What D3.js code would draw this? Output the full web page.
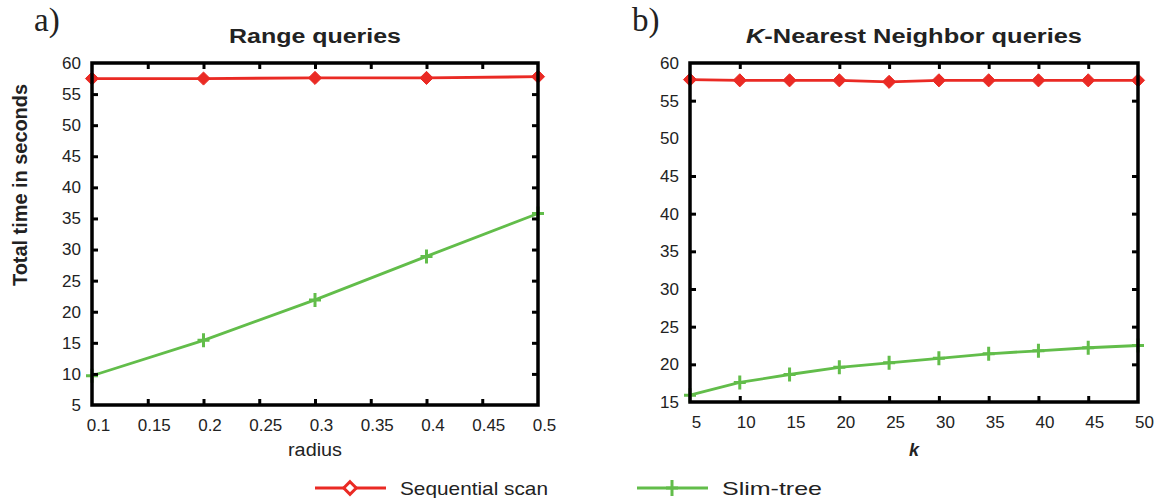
<!DOCTYPE html>
<html>
<head>
<meta charset="utf-8">
<script src="https://cdn.jsdelivr.net/npm/d3@7"></script>
<style>
  body { margin: 0; background: #fff; }
  text { font-family: "Liberation Sans", Arial, sans-serif; fill: #222; }
</style>
</head>
<body>
<svg id="chart" width="1160" height="498"></svg>
<script>
// ---- data ----
const radius = [0.1, 0.2, 0.3, 0.4, 0.5];
const rangeSeq = [57.5, 57.5, 57.6, 57.6, 57.8];
const rangeSlim = [9.7, 15.4, 21.9, 28.9, 35.8];

const kValues = [5, 10, 15, 20, 25, 30, 35, 40, 45, 50];
const knnSeq = [57.8, 57.7, 57.7, 57.7, 57.5, 57.7, 57.7, 57.7, 57.7, 57.7];
const knnSlim = [15.9, 17.6, 18.65, 19.6, 20.2, 20.8, 21.4, 21.8, 22.2, 22.5];

const radiusTicks = [0.1, 0.15, 0.2, 0.25, 0.3, 0.35, 0.4, 0.45, 0.5];
const rangeYTicks = [5, 10, 15, 20, 25, 30, 35, 40, 45, 50, 55, 60];
const kTicks = [5, 10, 15, 20, 25, 30, 35, 40, 45, 50];
const knnYTicks = [15, 20, 25, 30, 35, 40, 45, 50, 55, 60];

const seriesNames = ["Sequential scan", "Slim-tree"];
const RED = "#ea2a24", GREEN = "#62bd4a";

const svg = d3.select("#chart");

function panel(opts) {
  const x = d3.scaleLinear().domain(opts.xDomain).range([opts.left, opts.right]);
  const y = d3.scaleLinear().domain(opts.yDomain).range([opts.bottom, opts.top]);
  const g = svg.append("g");

  // series lines
  const line = d3.line().x(d => x(d[0])).y(d => y(d[1]));
  const seq = opts.xs.map((v, i) => [v, opts.seq[i]]);
  const slim = opts.xs.map((v, i) => [v, opts.slim[i]]);

  g.append("path").datum(slim).attr("d", line)
    .attr("fill", "none").attr("stroke", GREEN).attr("stroke-width", 2.8);
  g.append("path").datum(seq).attr("d", line)
    .attr("fill", "none").attr("stroke", RED).attr("stroke-width", 2.8);

  // plus markers
  g.selectAll(".plus").data(slim).enter().append("path")
    .attr("d", d => `M${x(d[0]) - 6},${y(d[1])}h12M${x(d[0])},${y(d[1]) - 7}v14`)
    .attr("stroke", GREEN).attr("stroke-width", 3);
  // diamonds
  g.selectAll(".dia").data(seq).enter().append("path")
    .attr("transform", d => `translate(${x(d[0])},${y(d[1])})`)
    .attr("d", d3.symbol(d3.symbolDiamond2, 110)())
    .attr("fill", RED).attr("stroke", RED).attr("stroke-width", 1);

  // axes, ticks pointing inward, on all four sides
  const tl = 6;
  g.append("g").attr("transform", `translate(0,${opts.bottom})`)
    .call(d3.axisBottom(x).tickValues(opts.xTicks).tickSize(-tl).tickPadding(14).tickFormat(opts.xFmt))
    .call(a => a.select(".domain").remove())
    .call(a => a.selectAll("line").attr("stroke", "#000").attr("stroke-width", 3))
    .call(a => a.selectAll("text").attr("dx", 6).attr("font-size", 17));
  g.append("g").attr("transform", `translate(0,${opts.top})`)
    .call(d3.axisTop(x).tickValues(opts.xTicks).tickSize(-tl).tickFormat(""))
    .call(a => a.select(".domain").remove())
    .call(a => a.selectAll("line").attr("stroke", "#000").attr("stroke-width", 3));
  g.append("g").attr("transform", `translate(${opts.left},0)`)
    .call(d3.axisLeft(y).tickValues(opts.yTicks).tickSize(-tl).tickPadding(11))
    .call(a => a.select(".domain").remove())
    .call(a => a.selectAll("line").attr("stroke", "#000").attr("stroke-width", 3))
    .call(a => a.selectAll("text").attr("font-size", 17));
  g.append("g").attr("transform", `translate(${opts.right},0)`)
    .call(d3.axisRight(y).tickValues(opts.yTicks).tickSize(-tl).tickFormat(""))
    .call(a => a.select(".domain").remove())
    .call(a => a.selectAll("line").attr("stroke", "#000").attr("stroke-width", 3));
  g.selectAll(".tick line").filter(d => d === opts.yDomain[0] || d === opts.yDomain[1] || d === opts.xDomain[0] || d === opts.xDomain[1]).remove();

  // frame
  g.append("rect")
    .attr("x", opts.left).attr("y", opts.top)
    .attr("width", opts.right - opts.left).attr("height", opts.bottom - opts.top)
    .attr("fill", "none").attr("stroke", "#000").attr("stroke-width", 3.5);

  // title and panel letter
  const title = g.append("text").attr("x", (opts.left + opts.right) / 2).attr("y", 43)
    .attr("text-anchor", "middle").attr("font-size", 20).attr("font-weight", "bold")
    .attr("textLength", opts.titleLen).attr("lengthAdjust", "spacingAndGlyphs");
  opts.title(title);
  g.append("text").attr("x", opts.letterX).attr("y", 31)
    .style("font-family", "'Liberation Serif', 'DejaVu Serif', serif")
    .attr("font-size", 33).text(opts.letter);

  // x label
  const xl = g.append("text").attr("x", (opts.left + opts.right) / 2).attr("y", 456)
    .attr("text-anchor", "middle").attr("font-size", 18);
  opts.xLabel(xl);
}

panel({
  left: 92, right: 538, top: 63, bottom: 405,
  xDomain: [0.1, 0.5], yDomain: [5, 60],
  xs: radius, seq: rangeSeq, slim: rangeSlim,
  xTicks: radiusTicks, yTicks: rangeYTicks, xFmt: d3.format("~g"),
  title: t => t.text("Range queries"), titleLen: 172,
  letter: "a)", letterX: 34,
  xLabel: t => t.attr("textLength", 54).attr("lengthAdjust", "spacingAndGlyphs").text("radius")
});

panel({
  left: 690, right: 1138, top: 63, bottom: 402,
  xDomain: [5, 50], yDomain: [15, 60],
  xs: kValues, seq: knnSeq, slim: knnSlim,
  xTicks: kTicks, yTicks: knnYTicks, xFmt: d3.format("d"),
  title: t => { t.append("tspan").attr("font-style", "italic").text("K"); t.append("tspan").text("-Nearest Neighbor queries"); },
  titleLen: 336,
  letter: "b)", letterX: 632,
  xLabel: t => t.attr("font-style", "italic").attr("font-weight", "bold").text("k")
});

// y axis title
svg.append("text")
  .attr("transform", "translate(27,185) rotate(-90)")
  .attr("text-anchor", "middle")
  .attr("font-size", 20).attr("font-weight", "bold")
  .style("font-family", "'Liberation Sans Narrow', 'Liberation Sans', Arial, sans-serif")
  .attr("textLength", 202).attr("lengthAdjust", "spacingAndGlyphs")
  .text("Total time in seconds");

// legend
const legend = svg.append("g");
const legendItems = [
  { name: seriesNames[0], color: RED, x: 315, sym: "dia", len: 148 },
  { name: seriesNames[1], color: GREEN, x: 637, sym: "plus", len: 100 }
];
legendItems.forEach(it => {
  const cy = 488;
  legend.append("line").attr("x1", it.x).attr("x2", it.x + 71).attr("y1", cy).attr("y2", cy)
    .attr("stroke", it.color).attr("stroke-width", 2.8);
  const cx = it.x + 35;
  if (it.sym === "dia") {
    legend.append("path").attr("transform", `translate(${cx},${cy})`)
      .attr("d", d3.symbol(d3.symbolDiamond2, 100)())
      .attr("fill", "#fff").attr("stroke", it.color).attr("stroke-width", 3);
  } else {
    legend.append("path").attr("d", `M${cx - 6},${cy}h12M${cx},${cy - 8}v16`)
      .attr("stroke", it.color).attr("stroke-width", 3);
  }
  legend.append("text").attr("x", it.x + 85).attr("y", cy + 7)
    .attr("font-size", 19).attr("textLength", it.len).attr("lengthAdjust", "spacingAndGlyphs")
    .text(it.name);
});
</script>
</body>
</html>
